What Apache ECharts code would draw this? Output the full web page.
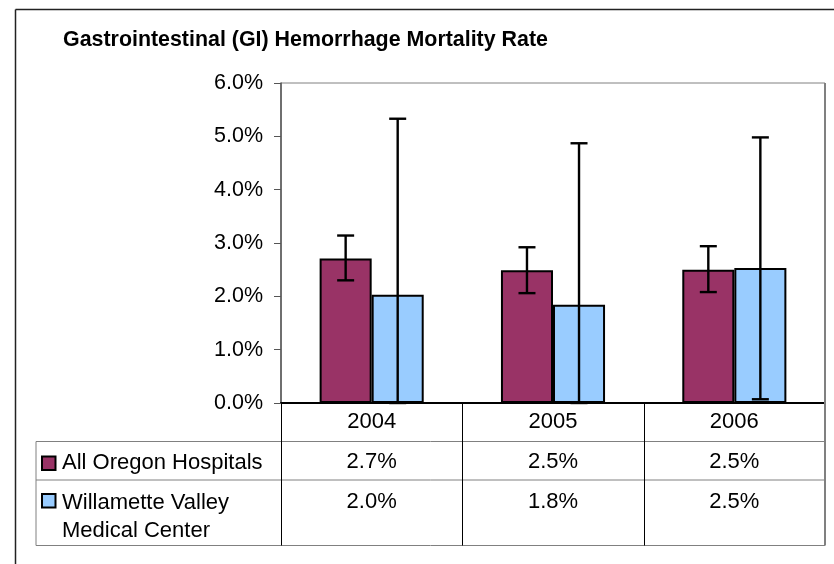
<!DOCTYPE html>
<html>
<head>
<meta charset="utf-8">
<script src="https://cdn.jsdelivr.net/npm/echarts@6/dist/echarts.min.js"></script>
<style>
html,body{margin:0;padding:0;background:#fff;}
#c{width:834px;height:564px;}
</style>
</head>
<body>
<div id="c"></div>
<script>
const titleText = 'Gastrointestinal (GI) Hemorrhage Mortality Rate';
const categories = ['2004', '2005', '2006'];
const seriesNames = ['All Oregon Hospitals', 'Willamette Valley Medical Center'];
const oregonRate = [2.71, 2.49, 2.50];
const oregonLow = [2.30, 2.06, 2.08];
const oregonHigh = [3.14, 2.92, 2.94];
const wvmcRate = [2.03, 1.84, 2.53];
const wvmcLow = [0.0, 0.0, 0.07];
const wvmcHigh = [5.33, 4.87, 4.98];
const yMin = 0, yMax = 6, yStep = 1;

const colors = ['#993366', '#99CCFF'];
const FONT = '"Liberation Sans", Arial, sans-serif';
const BAR_FRAC = 0.287;

const G = {left: 281, right: 825, top: 83, bottom: 403};
const tbl = {left: 36, hdrBottom: 441.5, row1Bottom: 480, bottom: 545.5};

function errSeries(idx, low, high, sign) {
  return {
    type: 'custom',
    z: 10,
    silent: true,
    data: categories.map((c, i) => [i, low[i], high[i]]),
    renderItem: function (params, api) {
      const i = api.value(0);
      const band = api.size([1, 0])[0];
      const cx = api.coord([i, 0])[0] + sign * band * BAR_FRAC / 2;
      const yl = api.coord([i, api.value(1)])[1];
      const yh = api.coord([i, api.value(2)])[1];
      const hw = 8.5;
      const st = {stroke: '#000', lineWidth: 2.4};
      return {
        type: 'group',
        children: [
          {type: 'line', shape: {x1: cx, y1: yl, x2: cx, y2: yh}, style: st},
          {type: 'line', shape: {x1: cx - hw, y1: yh, x2: cx + hw, y2: yh}, style: st},
          {type: 'line', shape: {x1: cx - hw, y1: yl, x2: cx + hw, y2: yl}, style: st}
        ]
      };
    }
  };
}

const chart = echarts.init(document.getElementById('c'));

const colW = (G.right - G.left) / categories.length;
const graphics = [];
function line(x1, y1, x2, y2, color, w) {
  graphics.push({type: 'line', silent: true, z: 50, shape: {x1, y1, x2, y2}, style: {stroke: color, lineWidth: w}});
}
// outer frame
line(15.5, 9.5, 834, 9.5, '#222', 1.5);
line(15.5, 9.5, 15.5, 564, '#222', 1.5);
// table lines
line(tbl.left, tbl.hdrBottom, G.right, tbl.hdrBottom, '#808080', 1);
line(tbl.left, tbl.row1Bottom, G.right, tbl.row1Bottom, '#808080', 1);
line(tbl.left, tbl.bottom, G.right, tbl.bottom, '#808080', 1);
line(tbl.left, tbl.hdrBottom, tbl.left, tbl.bottom, '#808080', 1);
line(G.right, G.top, G.right, tbl.bottom, '#808080', 2);
for (let i = 0; i < categories.length; i++) {
  const x = Math.round(G.left + i * colW) + 0.5;
  line(x, G.bottom, x, tbl.bottom, '#000', 1);
}
// values in table
const rowsData = [oregonRate, wvmcRate];
const rowY = [462, 502];
for (let r = 0; r < rowsData.length; r++) {
  for (let i = 0; i < categories.length; i++) {
    graphics.push({
      type: 'text', silent: true, z: 50,
      style: {
        x: G.left + (i + 0.5) * colW, y: rowY[r],
        text: rowsData[r][i].toFixed(1) + '%',
        font: '22px ' + FONT, fill: '#000', align: 'center', verticalAlign: 'middle'
      }
    });
  }
  // legend key
  const ky = r === 0 ? 456.5 : 494;
  graphics.push({
    type: 'rect', silent: true, z: 50,
    shape: {x: 42, y: ky, width: 13.5, height: 13.5},
    style: {fill: colors[r], stroke: '#000', lineWidth: 2}
  });
  graphics.push({
    type: 'text', silent: true, z: 50,
    style: {
      x: 62, y: rowY[r] - 13,
      text: seriesNames[r],
      width: 212, overflow: 'break', lineHeight: 28,
      font: '22px ' + FONT, fill: '#000', align: 'left', verticalAlign: 'top'
    }
  });
}
// title
graphics.push({
  type: 'text', silent: true, z: 50,
  style: {x: 63, y: 40, text: titleText, font: 'bold 21.4px ' + FONT, fill: '#000', align: 'left', verticalAlign: 'middle'}
});

chart.setOption({
  animation: false,
  backgroundColor: '#fff',
  grid: {
    left: G.left, right: 834 - G.right, top: G.top, bottom: 564 - G.bottom,
    show: true, borderColor: '#808080', borderWidth: 1, containLabel: false, outerBoundsMode: 'none'
  },
  xAxis: {
    type: 'category',
    data: categories,
    axisLine: {lineStyle: {color: '#000', width: 2}},
    axisTick: {show: false},
    axisLabel: {color: '#000', fontFamily: FONT, fontSize: 22, margin: 19, verticalAlign: 'middle'},
    splitLine: {show: false}
  },
  yAxis: {
    type: 'value',
    min: yMin, max: yMax, interval: yStep,
    axisLine: {show: true, lineStyle: {color: '#555', width: 1.5}},
    axisTick: {show: true, length: 7, lineStyle: {color: '#555', width: 1}},
    axisLabel: {color: '#000', fontFamily: FONT, fontSize: 21.5, margin: 18, formatter: v => v.toFixed(1) + '%'},
    splitLine: {show: false}
  },
  series: [
    {
      name: seriesNames[0], type: 'bar', data: oregonRate,
      barWidth: (BAR_FRAC * 100) + '%', barGap: '0%',
      itemStyle: {color: colors[0], borderColor: '#000', borderWidth: 2}
    },
    {
      name: seriesNames[1], type: 'bar', data: wvmcRate,
      barWidth: (BAR_FRAC * 100) + '%', barGap: '0%',
      itemStyle: {color: colors[1], borderColor: '#000', borderWidth: 2}
    },
    errSeries(0, oregonLow, oregonHigh, -1),
    errSeries(1, wvmcLow, wvmcHigh, 1)
  ],
  graphic: graphics
});
</script>
</body>
</html>
